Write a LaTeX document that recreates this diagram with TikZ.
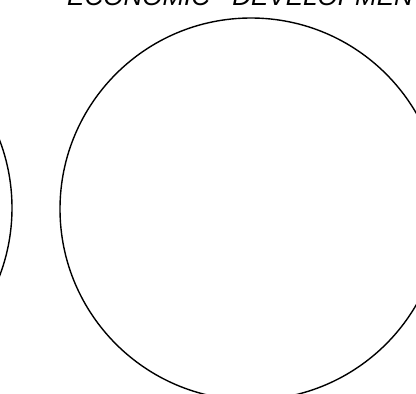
\documentclass[tikz,border=0pt]{standalone}
\usepackage{fontspec}
\setmainfont{Liberation Sans}
\usetikzlibrary{positioning}

\begin{document}
\begin{tikzpicture}[
    x=1pt, y=-1pt,
    ring/.style={circle, draw=black, line width=1.4pt, minimum size=382pt, inner sep=0pt},
    heading/.style={font=\fontsize{26}{31}\selectfont\itshape, inner sep=0pt, anchor=base west}
]
\useasboundingbox (0,0) rectangle (416,394);
\clip (0,0) rectangle (416,394);

% Title, cut by the top edge
\node[heading] (title) at (67,5.5) {ECONOMIC\hspace{0.85em}DEVELOPMENT};

% Circles
\node[ring] (econ) at (251,209) {};
\node[ring] (other) at (-179,208) {};

\end{tikzpicture}
\end{document}
